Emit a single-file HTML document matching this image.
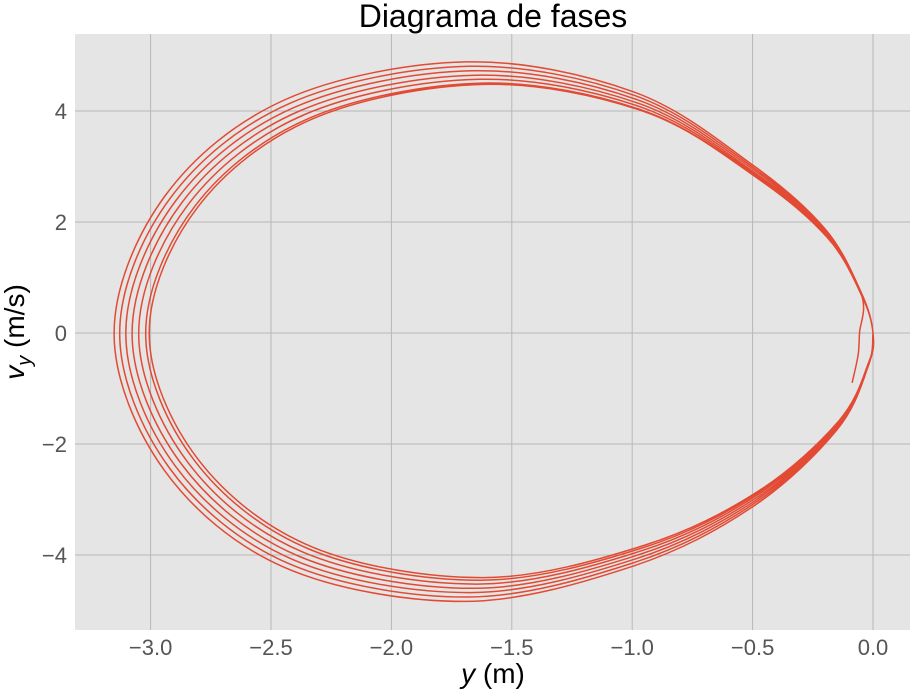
<!DOCTYPE html>
<html><head><meta charset="utf-8"><style>
body{margin:0;background:#fff;}
svg text{font-family:"Liberation Sans",sans-serif;}
</style></head><body>
<svg id="chart" width="920" height="691" xmlns="http://www.w3.org/2000/svg">
<rect x="75" y="34" width="835" height="596" fill="#e5e5e5"/>
<g id="grid"></g>
<g id="ticks"></g>
<path id="traj" fill="none" stroke="#e24a33" stroke-width="1.5"/>
<text x="493" y="27" font-size="32" text-anchor="middle" fill="#000">Diagrama de fases</text>
<text x="493" y="683" font-size="28" text-anchor="middle" fill="#000"><tspan font-style="italic">y</tspan> (m)</text>
<text transform="translate(24,332) rotate(-90)" font-size="28" text-anchor="middle" fill="#000"><tspan font-style="italic">v</tspan><tspan font-style="italic" font-size="20" dy="7">y</tspan><tspan dy="-7"> (m/s)</tspan></text>
</svg>
<script>
const xTicks=[-3.0,-2.5,-2.0,-1.5,-1.0,-0.5,0.0];
const yTicks=[-4,-2,0,2,4];
// base (outermost) loop shape, clockwise from rightmost point
const baseY=[0,-0.02,-0.15,-0.5,-1.0,-1.7,-2.45,-2.95,-3.162,-2.95,-2.45,-1.7,-1.0,-0.5,-0.2,-0.05];
const baseV=[0,-0.6,-1.75,-3.14,-4.22,-4.86,-4.25,-2.5,0,2.5,4.25,4.94,4.4,3.06,1.9,0.75];
const loopLeft=[-3.162,-3.141,-3.116,-3.090,-3.064,-3.035,-3.006];
const loopPeak=[4.94,4.86,4.78,4.70,4.62,4.55,4.48];
const tailY=[-0.056,-0.062,-0.087];
const tailV=[0,-0.4,-0.9];

const X=v=>873+v*240.8, Y=v=>333-v*55.5;
const ns="http://www.w3.org/2000/svg";
const grid=document.getElementById('grid'), ticks=document.getElementById('ticks');
function mk(tag,attrs,parent){const e=document.createElementNS(ns,tag);for(const k in attrs)e.setAttribute(k,attrs[k]);parent.appendChild(e);return e;}
xTicks.forEach(t=>{
  const l=mk('line',{x1:X(t),x2:X(t),y1:34,y2:630,stroke:'#b8b8b8','stroke-width':1},grid);
  
  
  const s=mk('text',{x:X(t),y:655,'font-size':22,'text-anchor':'middle',fill:'#555'},ticks);
  s.textContent=(t<0?'\u2212':'')+Math.abs(t).toFixed(1);
  
  
});
yTicks.forEach(t=>{
  const l=mk('line',{x1:75,x2:910,y1:Y(t),y2:Y(t),stroke:'#b8b8b8','stroke-width':1},grid);
  
  
  const s=mk('text',{x:67,y:Y(t)+8,'font-size':22,'text-anchor':'end',fill:'#555'},ticks);
  s.textContent=(t<0?'\u2212':'')+Math.abs(t);
  
  
});
const pts=[];const n=baseY.length, L=loopLeft.length;
for(let i=0;i<L;i++){
  const j=Math.min(i+1,L-1);
  for(let k=(i===0?0:1);k<n;k++){
    const f=k/n;
    const sy=(loopLeft[i]*(1-f)+loopLeft[j]*f)/loopLeft[0];
    const sv=(loopPeak[i]*(1-f)+loopPeak[j]*f)/loopPeak[0];
    pts.push([X(baseY[k]*sy),Y(baseV[k]*sv)]);
  }
  if(i<L-1) pts.push([X(0),Y(0)]);
}
tailY.forEach((v,i)=>pts.push([X(v),Y(tailV[i])]));
let d='M'+pts[0][0]+','+pts[0][1];
for(let i=0;i<pts.length-1;i++){
  const p0=pts[Math.max(i-1,0)],p1=pts[i],p2=pts[i+1],p3=pts[Math.min(i+2,pts.length-1)];
  const c1=[p1[0]+(p2[0]-p0[0])/6,p1[1]+(p2[1]-p0[1])/6];
  const c2=[p2[0]-(p3[0]-p1[0])/6,p2[1]-(p3[1]-p1[1])/6];
  d+=`C${c1[0].toFixed(1)},${c1[1].toFixed(1)} ${c2[0].toFixed(1)},${c2[1].toFixed(1)} ${p2[0].toFixed(1)},${p2[1].toFixed(1)}`;
}
document.getElementById('traj').setAttribute('d',d);
</script>
</body></html>
